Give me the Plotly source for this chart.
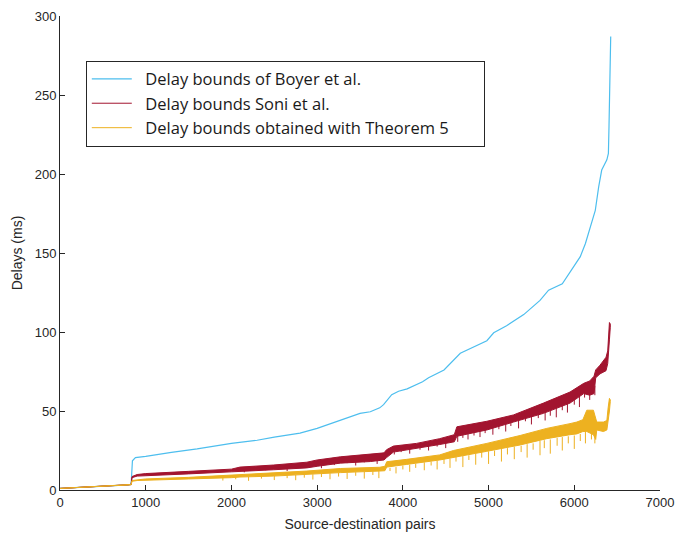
import plotly.graph_objects as go

# Delay bounds of Boyer et al. (smooth curve)
boyer_x = [0, 200, 400, 600, 800, 830, 836, 845, 880, 1000, 1300, 1600, 2000, 2300, 2500,
           2800, 3000, 3270, 3500, 3620, 3730, 3775, 3870, 3950, 4050, 4230, 4300, 4480,
           4670, 4980, 5060, 5210, 5410, 5600, 5700, 5860, 5950, 6070, 6130, 6180, 6210,
           6245, 6285, 6320, 6380, 6398, 6405, 6412, 6420, 6425]
boyer_y = [1.0, 1.5, 2.0, 2.6, 3.3, 3.6, 10, 18.5, 20.5, 21.3, 23.8, 26.0, 29.5, 31.5, 33.5,
           36, 39, 44.3, 48.5, 49.5, 52, 54, 60.3, 62.5, 64, 68.5, 71, 76,
           86.5, 94.5, 99.5, 104, 111, 120, 126.5, 130.5, 138, 147.7, 156, 164.5, 170,
           177, 192, 202.5, 209, 213, 230, 255, 275, 287]

# Delay bounds of Soni et al.: dense band (upper / lower) plus isolated dips
soni_x = [0, 400, 800, 830, 840, 900, 1000, 1500, 2000, 2100, 2490, 2880, 3000, 3270, 3620,
          3780, 3810, 3890, 4160, 4430, 4600, 4630, 4980, 5290, 5640, 5950, 6110, 6180,
          6230, 6250, 6300, 6370, 6390, 6400, 6410, 6420]
soni_hi = [1.0, 2.0, 3.3, 3.6, 8.5, 9.8, 10.4, 11.8, 13.2, 14.5, 15.8, 17.6, 19.0, 21.0, 22.5,
           23.5, 25.5, 27.8, 29.5, 32.5, 35, 40, 43.5, 47.5, 55, 62, 67.5, 69,
           72, 76, 79, 84, 88, 100, 106, 105]
soni_lo = [1.0, 2.0, 3.3, 3.4, 7.8, 8.8, 9.0, 10.2, 11.5, 12.0, 12.8, 14.0, 15.0, 17.0, 18.0,
           19.0, 20.5, 24.0, 26.2, 28.8, 30.5, 34, 38, 43, 48.5, 55, 61, 60,
           61, 71, 73.5, 75.5, 80, 85, 95, 103]
soni_dip_x = [2150, 2400, 2650, 2900, 3050, 3200, 3350, 3450, 3550, 3700, 3900, 3980, 4080,
              4200, 4300, 4400, 4500, 4640, 4700, 4760, 4830, 4900, 4960, 5050, 5120, 5200,
              5260, 5350, 5430, 5500, 5580, 5660, 5720, 5790, 5860, 5920, 6000, 6060, 6120,
              6180, 6240]
soni_dip_top = [13, 14, 15, 16, 17, 19, 19.5, 20, 20.5, 21, 25, 26, 27,
                28, 29, 30, 31, 36, 37, 37.5, 38, 39, 40, 41, 42, 43,
                44, 45, 46.5, 48, 49, 51, 52, 53.5, 55, 57, 59, 61, 63,
                64, 66]
soni_dip_bottom = [11.2, 12.5, 12.0, 14.5, 13.8, 15.8, 17, 15.5, 17.5, 16.5, 22.5, 24, 23,
                   25.5, 25, 27.5, 26.5, 30.5, 33, 32, 34.5, 33.5, 36, 35, 38.5, 37,
                   40.5, 39, 43.5, 41.5, 45.5, 44, 47, 46, 50.5, 49, 54, 52.5, 58.5,
                   57, 60]

# Delay bounds obtained with Theorem 5: dense band plus isolated dips
thm_x = [0, 400, 800, 830, 840, 900, 1000, 1500, 2000, 2100, 2490, 2880, 3270, 3730, 3790,
         3812, 4045, 4430, 4590, 4980, 5368, 5679, 5950, 6029, 6100, 6146, 6223, 6250,
         6262, 6340, 6380, 6395, 6410, 6420]
thm_hi = [1.0, 2.0, 3.2, 3.5, 6.0, 6.5, 7.0, 8.0, 9.3, 9.9, 10.6, 12.0, 13.6, 14.4, 15,
          17.9, 19.4, 22.2, 25, 29.5, 34.5, 39, 42, 43, 44.5, 50.5, 50.5, 46,
          43, 43, 44, 52, 58, 57]
thm_lo = [1.0, 2.0, 3.2, 3.3, 5.5, 6.0, 6.4, 7.0, 7.8, 8.2, 8.8, 9.8, 11.0, 12.0, 12.2,
          14.5, 16.2, 19.0, 20.5, 24.5, 28.5, 32.5, 35, 35.5, 37, 37, 35, 32,
          38, 37, 38, 42, 50, 56]
thm_dip_x = [1900, 2050, 2200, 2350, 2500, 2650, 2750, 2850, 2950, 3050, 3150, 3250, 3350,
             3450, 3550, 3650, 3720, 3850, 3920, 4000, 4080, 4150, 4250, 4330, 4400, 4480,
             4550, 4620, 4700, 4770, 4850, 4920, 5000, 5070, 5150, 5220, 5300, 5380, 5450,
             5520, 5600, 5650, 5720, 5800, 5860, 5930, 6000, 6070, 6130, 6200, 6240]
thm_dip_top = [7.8, 8.2, 8.5, 8.7, 9, 9.3, 9.5, 9.8, 10, 10.3, 10.6, 10.8, 11,
               11.3, 11.5, 11.8, 12, 14, 14.5, 15.5, 16, 16.5, 17.5, 18, 18.5, 19.5,
               20, 21, 21.5, 22, 23, 24, 24.5, 25, 26, 26.5, 27.5, 28, 29,
               29.5, 31, 31.5, 32, 33, 33.5, 34, 34.5, 35.5, 37, 38, 38]
thm_dip_bottom = [6, 6.8, 5.8, 7.2, 6.3, 7.5, 6.2, 7.8, 6.6, 8.2, 6.8, 8.5, 7,
                  9, 7.2, 9.5, 7.5, 12, 10.5, 13, 11.5, 14, 12.5, 15.5, 13, 16.5,
                  14, 18, 14.5, 19, 16, 20.5, 16.5, 21.5, 18, 22.5, 19.5, 24, 20.5,
                  25.5, 22, 26.5, 23, 28, 25, 29.5, 26, 31, 29.5, 32, 29.5]

BLUE = "#4DBEEE"
RED = "#A2142F"
YELLOW = "#EDB120"
INK = "#262626"
SANS = "Liberation Sans"

NBSP = "\u00a0"
legend_names = ["Delay bounds of Boyer et al.",
                "Delay bounds Soni et al.",
                "Delay bounds obtained with Theorem 5"]


def pad(label):
    return NBSP * 2 + label + NBSP * 7


def dip_segments(xs, tops, bottoms):
    sx, sy = [], []
    for x, t, b in zip(xs, tops, bottoms):
        sx += [x, x, None]
        sy += [t, b, None]
    return sx, sy


fig = go.Figure()

fig.add_trace(go.Scatter(x=boyer_x, y=boyer_y, mode="lines",
                         line=dict(color=BLUE, width=1.2),
                         name=pad(legend_names[0])))

for name, color, xs, hi, lo, dx, dt, db in [
    (legend_names[1], RED, soni_x, soni_hi, soni_lo,
     soni_dip_x, soni_dip_top, soni_dip_bottom),
    (legend_names[2], YELLOW, thm_x, thm_hi, thm_lo,
     thm_dip_x, thm_dip_top, thm_dip_bottom),
]:
    sx, sy = dip_segments(dx, dt, db)
    fig.add_trace(go.Scatter(x=sx, y=sy, mode="lines", name=pad(name), legendgroup=name,
                             line=dict(color=color, width=1)))
    fig.add_trace(go.Scatter(x=xs + xs[::-1], y=hi + lo[::-1], mode="lines",
                             fill="toself", fillcolor=color, legendgroup=name,
                             showlegend=False, hoverinfo="skip",
                             line=dict(color=color, width=1)))

axis_common = dict(showgrid=False, zeroline=False, showline=True, linecolor=INK,
                   linewidth=1, ticks="inside", ticklen=5, tickcolor=INK,
                   tickfont=dict(family=SANS, size=13, color=INK),
                   mirror=False, automargin=False)

fig.update_layout(
    width=678, height=536,
    margin=dict(l=60, r=18, t=16, b=46),
    font=dict(family=SANS, color=INK),
    paper_bgcolor="white", plot_bgcolor="white",
    xaxis=dict(range=[0, 7000], dtick=1000, tick0=0,
               title=dict(text="Source-destination pairs", standoff=10,
                          font=dict(family=SANS, size=14, color=INK)),
               **axis_common),
    yaxis=dict(range=[0, 300], dtick=50, tick0=0,
               title=dict(text="Delays (ms)", standoff=8,
                          font=dict(family=SANS, size=14, color=INK)),
               **axis_common),
    legend=dict(x=0.043, y=0.906, xanchor="left", yanchor="top",
                bgcolor="white", bordercolor=INK, borderwidth=1,
                font=dict(family="Open Sans", size=16.5, color="#1a1a1a"),
                tracegroupgap=0, itemwidth=40),
    showlegend=True,
)

fig.write_html("out.html")
